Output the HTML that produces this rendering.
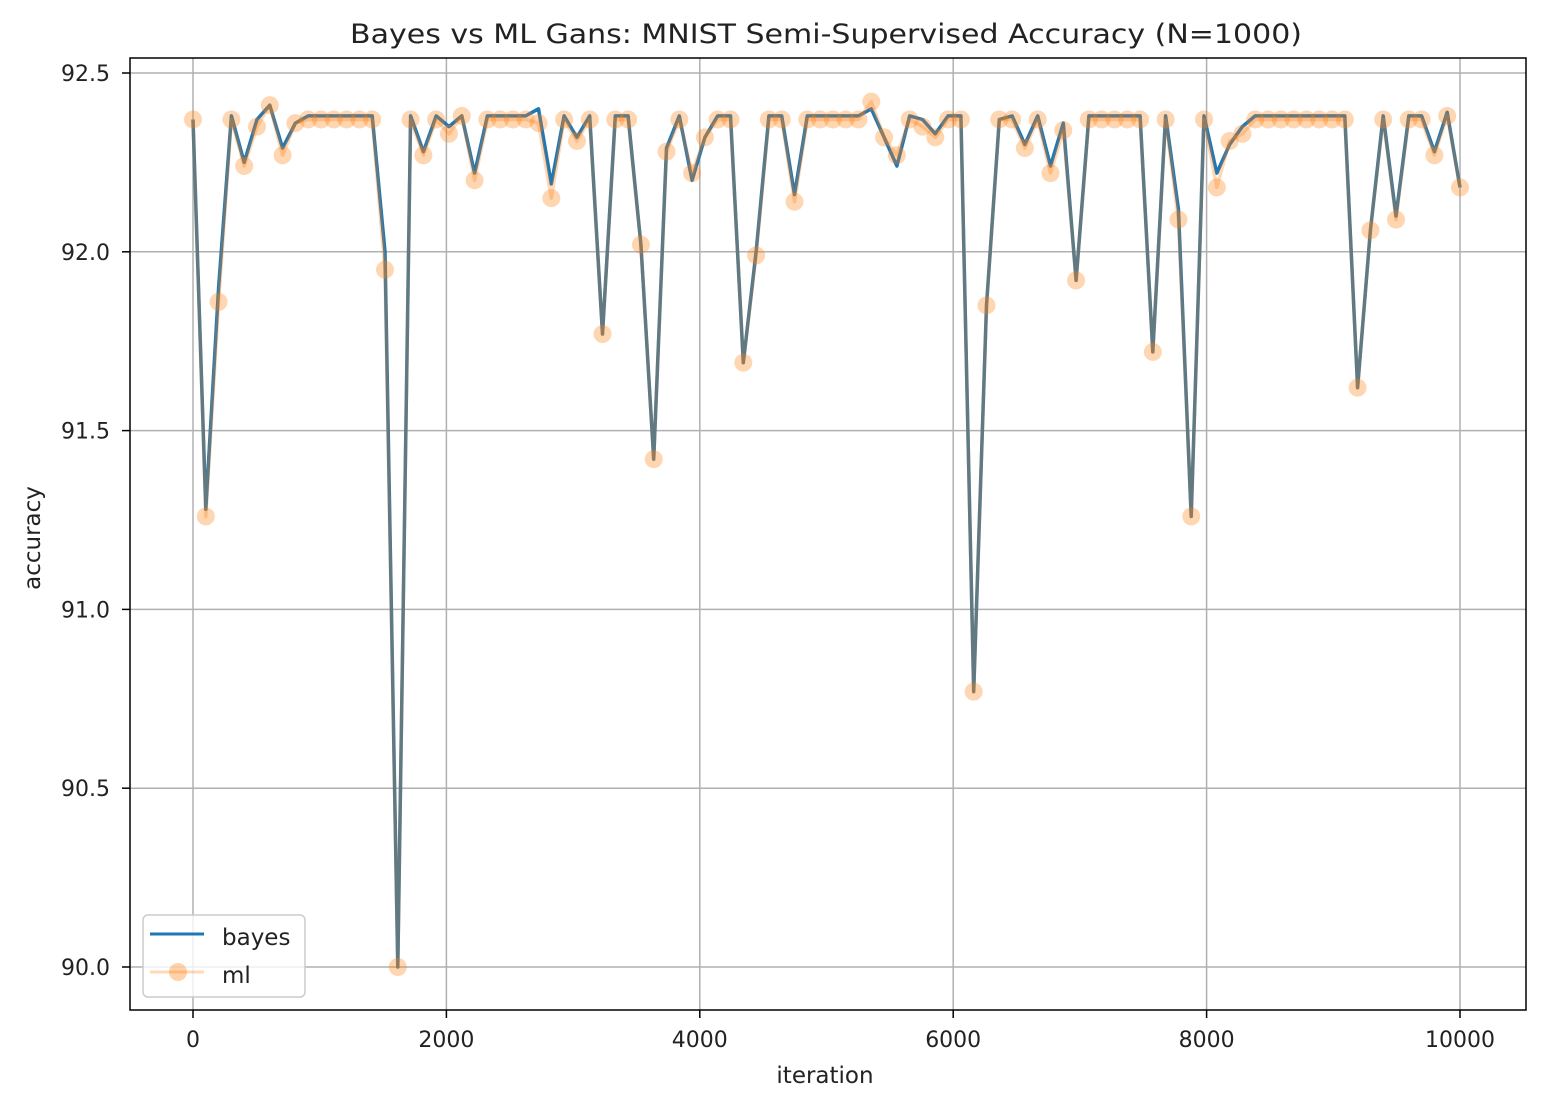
<!DOCTYPE html>
<html><head><meta charset="utf-8"><style>
html,body{margin:0;padding:0;background:#fff;}
svg text{font-family:"DejaVu Sans","Liberation Sans",sans-serif;fill:#222;}
</style></head><body>
<svg id="chart" width="1552" height="1102" xmlns="http://www.w3.org/2000/svg">
<rect width="1552" height="1102" fill="#fff"/>
<text x="826" y="43" font-size="27" text-anchor="middle" textLength="952" lengthAdjust="spacingAndGlyphs">Bayes vs ML Gans: MNIST Semi-Supervised Accuracy (N=1000)</text>
<g id="grid"></g>
<g id="axes"></g>
<g id="series"></g>
<rect x="130" y="58" width="1396" height="952" fill="none" stroke="#000" stroke-width="1.5"/>
<text x="825" y="1083" font-size="23" text-anchor="middle">iteration</text>
<text transform="translate(40,538) rotate(-90)" font-size="23" text-anchor="middle">accuracy</text>
<g>
<rect x="143" y="915" width="162" height="82" rx="5" fill="#fff" fill-opacity="0.8" stroke="#ccc" stroke-width="1.5"/>
<line x1="150" y1="934" x2="204" y2="934" stroke="#1f77b4" stroke-width="3"/>
<text x="222" y="945" font-size="23">bayes</text>
<line x1="150" y1="972" x2="204" y2="972" stroke="#ff7f0e" stroke-opacity="0.3" stroke-width="3"/>
<circle cx="178" cy="972" r="9" fill="#ff7f0e" fill-opacity="0.35"/>
<text x="222" y="983" font-size="23">ml</text>
</g>
</svg>
<script>
const xTicks=[0,2000,4000,6000,8000,10000];
const yTicks=[90.0,90.5,91.0,91.5,92.0,92.5];
const mlValues=[92.37,91.26,91.86,92.37,92.24,92.35,92.41,92.27,92.36,92.37,92.37,92.37,92.37,92.37,92.37,91.95,90.00,92.37,92.27,92.37,92.33,92.38,92.20,92.37,92.37,92.37,92.37,92.36,92.15,92.37,92.31,92.37,91.77,92.37,92.37,92.02,91.42,92.28,92.37,92.22,92.32,92.37,92.37,91.69,91.99,92.37,92.37,92.14,92.37,92.37,92.37,92.37,92.37,92.42,92.32,92.27,92.37,92.35,92.32,92.37,92.37,90.77,91.85,92.37,92.37,92.29,92.37,92.22,92.34,91.92,92.37,92.37,92.37,92.37,92.37,91.72,92.37,92.09,91.26,92.37,92.18,92.31,92.33,92.37,92.37,92.37,92.37,92.37,92.37,92.37,92.37,91.62,92.06,92.37,92.09,92.37,92.37,92.27,92.38,92.18];
const bayesValues=[92.37,91.28,91.90,92.38,92.25,92.37,92.41,92.29,92.36,92.38,92.38,92.38,92.38,92.38,92.38,92.00,90.00,92.38,92.28,92.38,92.35,92.38,92.22,92.38,92.38,92.38,92.38,92.40,92.19,92.38,92.32,92.38,91.77,92.38,92.38,92.02,91.42,92.29,92.38,92.20,92.32,92.38,92.38,91.69,92.00,92.38,92.38,92.16,92.38,92.38,92.38,92.38,92.38,92.40,92.32,92.24,92.38,92.37,92.33,92.38,92.38,90.77,91.85,92.37,92.38,92.30,92.38,92.24,92.36,91.92,92.38,92.38,92.38,92.38,92.38,91.72,92.38,92.12,91.26,92.38,92.22,92.30,92.35,92.38,92.38,92.38,92.38,92.38,92.38,92.38,92.38,91.62,92.06,92.38,92.10,92.38,92.38,92.28,92.39,92.18];
const NS="http://www.w3.org/2000/svg";
const X0=193,X1=1460,Y0=967,Y1=73;
function sx(v){return X0+(v-0)*(X1-X0)/10000;}
function sy(v){return Y0-(v-90)*(Y0-Y1)/2.5;}
function iter(i,n){return i*10000/(n-1);}
function mk(tag,attrs,parent){const e=document.createElementNS(NS,tag);for(const k in attrs)e.setAttribute(k,attrs[k]);parent.appendChild(e);return e;}
const grid=document.getElementById('grid'),axes=document.getElementById('axes'),series=document.getElementById('series');
xTicks.forEach(t=>{
 const gl=mk('line',{x1:sx(t),x2:sx(t),y1:58,y2:1010,stroke:'#b0b0b0','stroke-width':1.5},grid);
 
 
 const tk=mk('line',{x1:sx(t),x2:sx(t),y1:1010,y2:1018,stroke:'#000','stroke-width':1.5},axes);
 
 
 const tl=mk('text',{x:sx(t),y:1047,'font-size':22,'text-anchor':'middle'},axes);
 tl.textContent=String(t);
 
 
});
yTicks.forEach(t=>{
 const gl=mk('line',{x1:130,x2:1526,y1:sy(t),y2:sy(t),stroke:'#b0b0b0','stroke-width':1.5},grid);
 
 
 const tk=mk('line',{x1:122,x2:130,y1:sy(t),y2:sy(t),stroke:'#000','stroke-width':1.5},axes);
 
 
 const tl=mk('text',{x:110,y:sy(t)+8,'font-size':22,'text-anchor':'end'},axes);
 tl.textContent=t.toFixed(1);
 
 
});
const bp=bayesValues.map((v,i)=>sx(iter(i,bayesValues.length)).toFixed(1)+','+sy(v).toFixed(1)).join(' ');
const bl=mk('polyline',{points:bp,fill:'none',stroke:'#1f77b4','stroke-width':3.5,'stroke-linejoin':'round'},series);


const mp=mlValues.map((v,i)=>sx(iter(i,mlValues.length)).toFixed(1)+','+sy(v).toFixed(1)).join(' ');
const ml=mk('polyline',{points:mp,fill:'none',stroke:'#ff7f0e','stroke-opacity':0.3,'stroke-width':3.5,'stroke-linejoin':'round'},series);


mlValues.forEach((v,i)=>{
 const c=mk('circle',{cx:sx(iter(i,mlValues.length)),cy:sy(v),r:9,fill:'#ff7f0e','fill-opacity':0.32},series);
 
 
});
</script>
</body></html>
